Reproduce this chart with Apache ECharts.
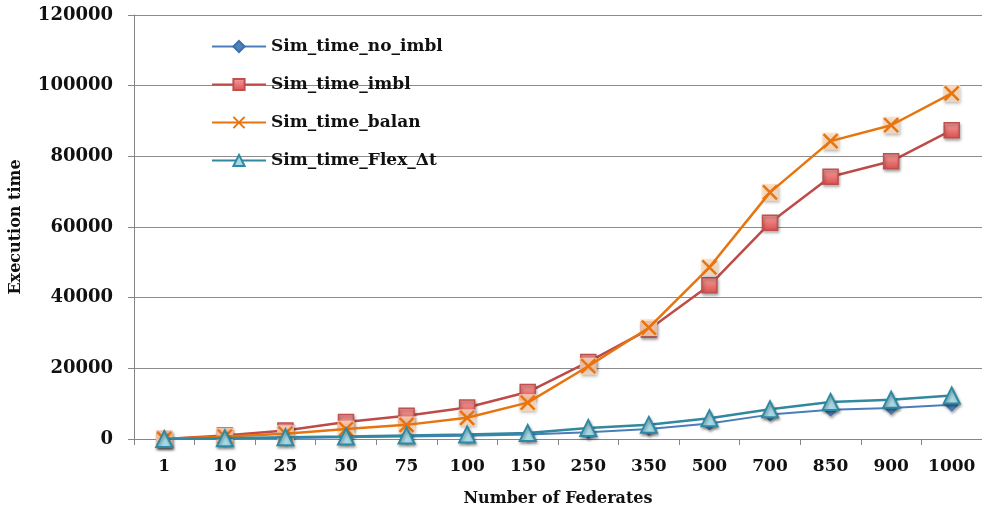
<!DOCTYPE html>
<html lang="en">
<head>
<meta charset="UTF-8">
<title>Execution time</title>
<style>
  html, body {margin:0; padding:0; background:#fff}
  #chart {width:982px; height:512px}
</style>
<script src="https://cdn.jsdelivr.net/npm/echarts@6/dist/echarts.min.js"></script>
</head>
<body>
<div id="chart"></div>
<script>
const federates = ['1', '10', '25', '50', '75', '100', '150', '250', '350', '500', '700', '850', '900', '1000']
const yTicks = [0, 20000, 40000, 60000, 80000, 100000, 120000]

const simNoImbl = [0, 100, 300, 500, 700, 900, 1300, 1900, 2800, 4400, 6900, 8300, 8800, 9700]
const simImbl = [0, 1000, 2400, 4800, 6600, 8900, 13300, 21800, 31000, 43500, 61200, 74200, 78600, 87400]
const simBalan = [0, 700, 1500, 2800, 4000, 6000, 10300, 20600, 31500, 48600, 69800, 84300, 88800, 97800]
const simFlex = [0, 200, 500, 700, 1000, 1300, 1700, 3100, 4000, 5900, 8400, 10500, 11100, 12300]

const font = 'DejaVu Serif'
const xPath = 'path://M0,0 L10,10 M10,0 L0,10'

const chart = echarts.init(document.getElementById('chart'))

const shadow = {shadowBlur: 3, shadowColor: 'rgba(0,0,0,0.35)', shadowOffsetX: 1, shadowOffsetY: 2}

chart.setOption({
  animation: false,
  grid: {left: 131, right: 0, top: 15, bottom: 73},
  legend: {
    orient: 'vertical',
    left: 206, top: 33,
    itemGap: 21,
    itemWidth: 54, itemHeight: 14,
    textStyle: {fontFamily: font, fontWeight: 'bold', fontSize: 17, color: '#111'},
    data: ['Sim_time_no_imbl', 'Sim_time_imbl', 'Sim_time_balan', 'Sim_time_Flex_Δt']
  },
  xAxis: {
    type: 'category',
    data: federates,
    boundaryGap: true,
    name: 'Number of Federates',
    nameLocation: 'middle',
    nameGap: 52,
    nameTextStyle: {fontFamily: font, fontWeight: 'bold', fontSize: 16, color: '#111'},
    axisLine: {lineStyle: {color: '#868686', width: 1}},
    axisTick: {show: true, length: 6, interval: 0, alignWithLabel: false, lineStyle: {color: '#868686'}},
    axisLabel: {interval: 0, fontFamily: font, fontWeight: 'bold', fontSize: 17, color: '#111', margin: 19}
  },
  yAxis: {
    type: 'value',
    min: 0, max: 120000, interval: 20000,
    name: 'Execution time',
    nameLocation: 'middle',
    nameGap: 110,
    nameRotate: 90,
    nameTextStyle: {fontFamily: font, fontWeight: 'bold', fontSize: 16, color: '#111'},
    axisLine: {show: true, lineStyle: {color: '#868686', width: 1}},
    axisTick: {show: true, length: 6, lineStyle: {color: '#868686'}},
    splitLine: {lineStyle: {color: '#8c8c8c', width: 1}},
    axisLabel: {fontFamily: font, fontWeight: 'bold', fontSize: 18, color: '#111', margin: 21,
      formatter: v => yTicks.includes(v) ? String(v) : ''}
  },
  series: [
    {
      name: 'Sim_time_no_imbl', type: 'line', data: simNoImbl,
      symbol: 'diamond', symbolSize: 13,
      lineStyle: {color: '#4a7ebb', width: 2},
      itemStyle: Object.assign({color: '#4f81bd', borderColor: '#3d6fb0', borderWidth: 1}, shadow),
      z: 3
    },
    {
      name: 'Sim_time_imbl', type: 'line', data: simImbl,
      symbol: 'rect', symbolSize: 15,
      lineStyle: {color: '#be4b48', width: 2.5},
      itemStyle: Object.assign({
        color: new echarts.graphic.LinearGradient(0, 0, 0, 1, [
          {offset: 0, color: '#f8a0a0'}, {offset: 1, color: '#d9504d'}
        ]),
        borderColor: '#c0504d', borderWidth: 1.5
      }, shadow),
      z: 4
    },
    {
      name: 'balan_bg', type: 'scatter', data: simBalan,
      symbol: 'rect', symbolSize: 17,
      itemStyle: Object.assign({color: '#fdd9bb'}, shadow),
      z: 4, silent: true
    },
    {
      name: 'Sim_time_balan', type: 'line', data: simBalan,
      symbol: xPath, symbolSize: 14,
      lineStyle: {color: '#e8740e', width: 2.5},
      itemStyle: {color: 'rgba(0,0,0,0)', borderColor: '#e8740e', borderWidth: 2.5},
      z: 5
    },
    {
      name: 'Sim_time_Flex_Δt', type: 'line', data: simFlex,
      symbol: 'triangle', symbolSize: 16,
      lineStyle: {color: '#31889f', width: 2.5},
      itemStyle: Object.assign({color: '#a6d9e6', borderColor: '#2e8aa2', borderWidth: 2}, shadow),
      z: 6
    }
  ]
})
</script>
</body>
</html>
